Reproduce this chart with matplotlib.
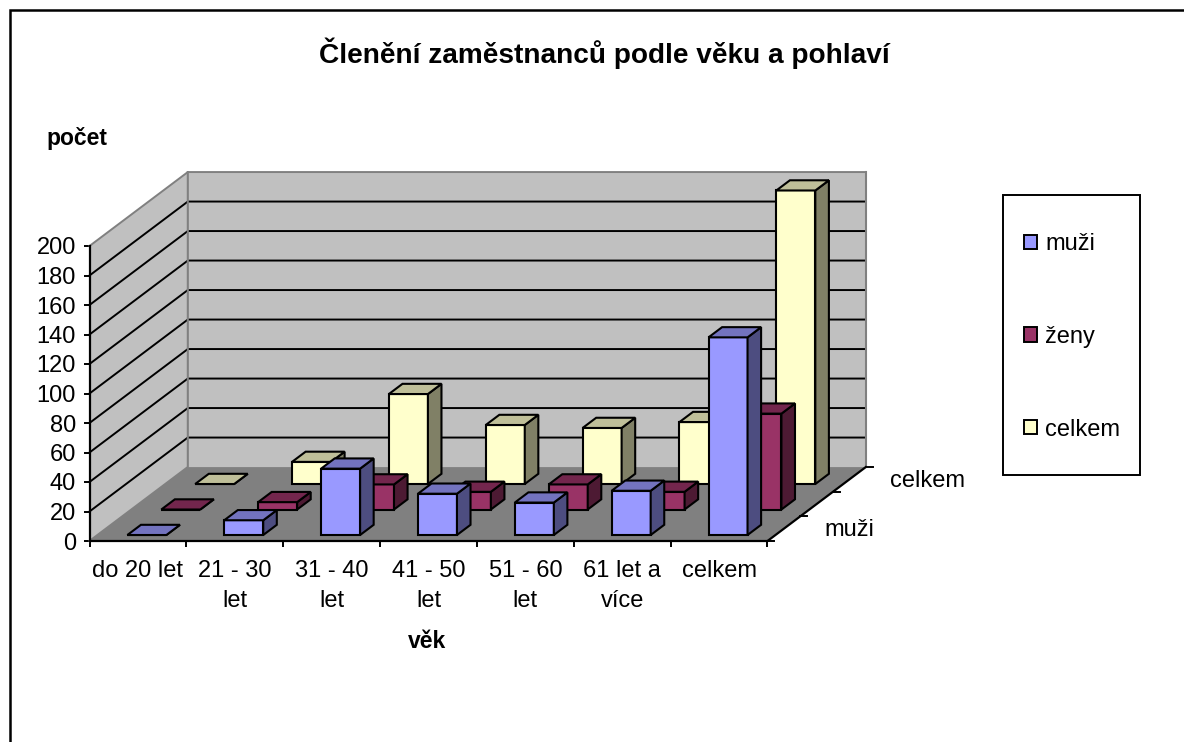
import matplotlib
matplotlib.use('Agg')
import matplotlib.pyplot as plt
from matplotlib.patches import Patch, Polygon, Rectangle

kategorie = ['do 20 let', '21 - 30\nlet', '31 - 40\nlet', '41 - 50\nlet', '51 - 60\nlet', '61 let a\nvíce', 'celkem']
muzi = [0, 10, 45, 28, 22, 30, 134]
zeny = [0, 5, 17, 12, 17, 12, 65]
celkem = [0, 15, 61, 40, 38, 42, 199]
serie_nazvy = ['muži', 'ženy', 'celkem']
osa_y = list(range(0, 201, 20))

W, H = 1184, 742
plt.rcParams['font.family'] = ['Liberation Sans', 'DejaVu Sans']
plt.rcParams['font.size'] = 17

fig = plt.figure(figsize=(W / 100, H / 100), dpi=100)
fig.patch.set_facecolor('white')
# plot area = front plane of the 3d box
ax = fig.add_axes([89.5 / W, 1 - 541 / H, 678 / W, 295 / H])
ax.set_xlim(0, 7)
ax.set_ylim(0, 200)
ax.patch.set_visible(False)
for s in ax.spines.values():
    s.set_visible(False)

# one series step in depth, in data units
DX = 33.9 / (678 / 7)
DY = 25.5 / (295 / 200)
HLOUBKA = 2.9


def proj(x, v, d):
    return (x + d * DX, v + d * DY)


def face(pts, color, z, edge='black', lw=1.5):
    ax.add_patch(Polygon(pts, closed=True, facecolor=color, edgecolor=edge, linewidth=lw,
                         zorder=z, clip_on=False, joinstyle='miter'))


def darker(c, f):
    r, g, b = matplotlib.colors.to_rgb(c)
    return (r * f, g * f, b * f)


# walls and floor
D = HLOUBKA
face([proj(0, 0, 0), proj(7, 0, 0), proj(7, 0, D), proj(0, 0, D)], '#808080', 1, edge='none')
face([proj(0, 0, D), proj(7, 0, D), proj(7, 200, D), proj(0, 200, D)], '#C0C0C0', 1, edge='none')
face([proj(0, 0, 0), proj(0, 0, D), proj(0, 200, D), proj(0, 200, 0)], '#C0C0C0', 1, edge='none')
for v in osa_y[1:]:
    col = 'black' if v < 200 else '#808080'
    a, b, c = proj(0, v, 0), proj(0, v, D), proj(7, v, D)
    ax.plot([a[0], b[0], c[0]], [a[1], b[1], c[1]], color=col, lw=1.4, zorder=2, clip_on=False)
a, b, c = proj(0, 0, 0), proj(0, 0, D), proj(0, 200, D)
ax.plot([a[0], b[0], c[0]], [a[1], b[1], c[1]], color='#808080', lw=1.5, zorder=2, clip_on=False)
a, b = proj(7, 0, D), proj(7, 200, D)
ax.plot([a[0], b[0]], [a[1], b[1]], color='#808080', lw=1.5, zorder=2, clip_on=False)

# bars, back series first
barvy = ['#9999FF', '#993366', '#FFFFCC']
hodnoty = [muzi, zeny, celkem]
sirka = 39 / (678 / 7)
posun = 1 / (678 / 7)
z = 3
for s in [2, 1, 0]:
    d0 = s + 0.235
    d1 = s + 0.635
    for i, v in enumerate(hodnoty[s]):
        x0 = i + (1 - sirka) / 2 + posun
        x1 = x0 + sirka
        c = barvy[s]
        face([proj(x0, 0, d0), proj(x1, 0, d0), proj(x1, v, d0), proj(x0, v, d0)], c, z)
        face([proj(x1, 0, d0), proj(x1, 0, d1), proj(x1, v, d1), proj(x1, v, d0)], darker(c, 0.5), z)
        face([proj(x0, v, d0), proj(x1, v, d0), proj(x1, v, d1), proj(x0, v, d1)], darker(c, 0.75), z)
        z += 1

# axes lines
ax.plot([0, 0], [0, 200], color='black', lw=1.6, zorder=200, clip_on=False)
ax.plot([0, 7], [0, 0], color='black', lw=1.6, zorder=200, clip_on=False)
a, b = proj(7, 0, 0), proj(7, 0, D)
ax.plot([a[0], b[0]], [a[1], b[1]], color='black', lw=1.6, zorder=200, clip_on=False)
for d in range(4):
    a = proj(7, 0, d * D / 3)
    ax.plot([a[0], a[0] + 0.07], [a[1], a[1]], color='black', lw=1.4, zorder=200, clip_on=False)
for s, nazev in [(0, 'muži'), (2, 'celkem')]:
    a = proj(7, 0, (s + 0.5) * D / 3)
    ax.text(a[0] + 0.42, a[1] - 1, nazev, ha='left', va='center', zorder=200)

ax.set_yticks(osa_y)
ax.tick_params(axis='y', length=4.3, width=1.4, pad=5.5)
ax.set_xticks(range(8))
ax.set_xticklabels([])
ax.tick_params(axis='x', which='major', length=4.3, width=1.4)
ax.set_xticks([i + 0.5 for i in range(7)], minor=True)
ax.set_xticklabels(kategorie, minor=True, linespacing=1.46)
ax.tick_params(axis='x', which='minor', length=0, pad=13.5)

# titles
fig.text(604 / W, 1 - 53 / H, 'Členění zaměstnanců podle věku a pohlaví', ha='center', va='center',
         fontweight='bold', fontsize=20.2)
fig.text(77 / W, 1 - 139 / H, 'počet', ha='center', va='center', fontweight='bold', fontsize=16.5)
fig.text(427 / W, 1 - 642 / H, 'věk', ha='center', va='center', fontweight='bold', fontsize=16.5)

# legend
fig.add_artist(Rectangle((1002.7 / W, 1 - 475 / H), 137 / W, 280 / H, transform=fig.transFigure,
                         facecolor='white', edgecolor='black', linewidth=1.4))
handles = [Patch(facecolor=c, edgecolor='black', linewidth=1.4) for c in barvy]
fig.legend(handles, serie_nazvy, loc='upper left', bbox_to_anchor=(1024 / W, 1 - 233 / H), frameon=False,
           borderpad=0, borderaxespad=0, handlelength=0.55, handleheight=0.55, handletextpad=0.35,
           labelspacing=3.0)

# outer chart border, runs off the right and bottom
fig.add_artist(Rectangle((10 / W, -0.05), 1.2, 1.05 - 10 / H, transform=fig.transFigure,
                         facecolor='none', edgecolor='black', linewidth=1.8))

fig.savefig('out.png', dpi=100)
